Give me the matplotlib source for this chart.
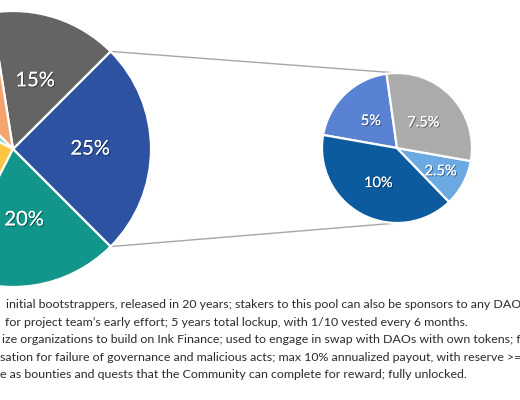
import numpy as np
import matplotlib
matplotlib.use("Agg")
import matplotlib.pyplot as plt
import matplotlib.patheffects as pe

# ---- data ----
main_values = [25, 15, 10, 5, 25, 20]          # blue (split into the small pie), grey, orange, mint, yellow, teal
main_colors = ["#2E52A2", "#646464", "#F4A46E", "#8ED1C6", "#FFC641", "#12968B"]
main_shown = [True, True, False, False, False, True]   # labels visible in the cropped view
sub_values = [5, 10, 2.5, 7.5]
sub_colors = ["#5A82D3", "#0B5B9E", "#6AA9E2", "#ABABAB"]
note_lines = [
    "initial bootstrappers, released in 20 years; stakers to this pool can also be sponsors to any DAO",
    "for project team\u2019s early effort; 5 years total lockup, with 1/10 vested every 6 months.",
    "ize organizations to build on Ink Finance; used to engage in swap with DAOs with own tokens; f",
    "sation for failure of governance and malicious acts; max 10% annualized payout, with reserve >=",
    "e as bounties and quests that the Community can complete for reward; fully unlocked.",
]
note_x = [6, 5, 1.5, 0.5, 0]

fig = plt.figure(figsize=(5.2, 4.0), dpi=100)
ax = fig.add_axes([0, 0, 1, 1])

main_c, main_r = (13, 251), 138
sub_c, sub_r = (397, 252), 75

wp = dict(edgecolor="white", linewidth=1.6)
mw, _ = ax.pie(main_values, colors=main_colors, startangle=-45, counterclock=True,
               center=main_c, radius=main_r, wedgeprops=wp)
sw, _ = ax.pie(sub_values, colors=sub_colors, startangle=98, counterclock=True,
               center=sub_c, radius=sub_r, wedgeprops=wp)

shadow = [pe.withSimplePatchShadow(offset=(0.8, -0.8), shadow_rgbFace="black", alpha=0.4), pe.Normal()]

def label(wedges, values, shown, c, r, dists, size):
    for w, v, s, d in zip(wedges, values, shown, dists):
        if not s:
            continue
        ang = np.deg2rad((w.theta1 + w.theta2) / 2)
        ax.text(c[0] + d * r * np.cos(ang), c[1] + d * r * np.sin(ang), f"{v:g}%",
                ha="center", va="center", color="white", fontsize=size,
                family="Lato", path_effects=shadow)

label(mw, main_values, main_shown, main_c, main_r, [0.56, 0.52, 0.55, 0.55, 0.55, 0.52], 14.5)
label(sw, sub_values, [True] * 4, sub_c, sub_r, [0.50, 0.53, 0.66, 0.49], 10.5)

# connector lines from the split wedge to the top/bottom of the small pie
w0 = mw[0]
for th, sy in ((w0.theta2, sub_c[1] + sub_r), (w0.theta1, sub_c[1] - sub_r)):
    t = np.deg2rad(th)
    x0 = main_c[0] + main_r * np.cos(t)
    y0 = main_c[1] + main_r * np.sin(t)
    ax.plot([x0, sub_c[0]], [y0, sy], color="#A6A6A6", lw=1.0, zorder=0)

ys = [91.7, 74.0, 56.7, 39.0, 21.7]
for x, y, s in zip(note_x, ys, note_lines):
    ax.text(x, y, s, ha="left", va="baseline", fontsize=8.9, family="Lato", color="#2B2B2B")

ax.set_xlim(0, 520)
ax.set_ylim(0, 400)
ax.set_aspect("equal")
ax.axis("off")
fig.savefig("out.png", dpi=100)
